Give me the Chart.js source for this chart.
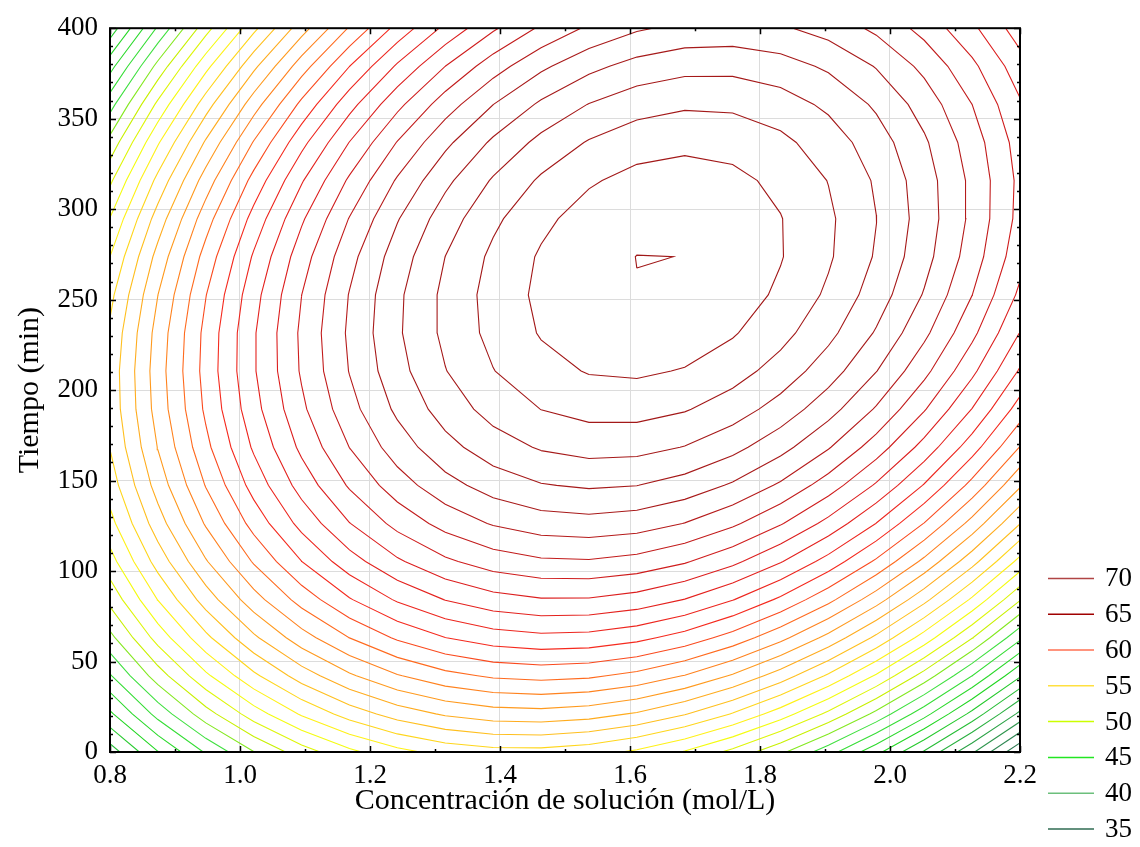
<!DOCTYPE html>
<html>
<head>
<meta charset="utf-8">
<script src="https://cdn.jsdelivr.net/npm/chart.js@4.4.1/dist/chart.umd.min.js"></script>
<style>
  html, body { margin: 0; padding: 0; background: #fff; }
  #wrap { width: 1140px; height: 847px; }
</style>
</head>
<body>
<div id="wrap"><canvas id="contour"></canvas></div>
<script>
// fitted response surface: y = b0 + b1*C + b2*t + b11*C^2 + b22*t^2 + b12*C*t
const coefs = [-5.89874, 80.470, 0.081817, -28.1, -0.0002862, 0.04365];

const concRange = [0.8, 2.2];   // mol/L
const timeRange = [0, 400];     // min
const gridPoints = 20;

const contourLevels = [35, 36, 37, 38, 39, 40, 41, 42, 43, 44, 45, 46, 47, 48, 49, 50, 51, 52, 53,
    54, 55, 56, 57, 58, 59, 60, 61, 62, 63, 64, 65, 66, 67, 68, 69, 70, 71];
const legendLevels = [70, 65, 60, 55, 50, 45, 40, 35];
const legendColors = ['#b04444', '#a00000', '#ff7052', '#ffe040', '#ccff00', '#22e622', '#6cbf7c', '#2f6b52'];

// palette used along the contour lines (level -> colour)
const paletteLevels = [71, 66, 62, 59, 57, 55, 52.5, 50.5, 48, 46, 43, 40, 37, 35];
const paletteColors = ['#a01818', '#a81a1a', '#dc1e1e', '#f52a1e', '#ff6a1e', '#ff9a1e', '#ffc81e',
    '#ffff14', '#c8f000', '#40e040', '#22d622', '#2ab040', '#2e8652', '#2c6b4e'];

const xTicks = [0.8, 1.0, 1.2, 1.4, 1.6, 1.8, 2.0, 2.2];
const yTicks = [0, 50, 100, 150, 200, 250, 300, 350, 400];

const serif = "'Liberation Serif', 'Times New Roman', serif";

function surface(c, t) {
    const [b0, b1, b2, b11, b22, b12] = coefs;
    return b0 + b1 * c + b2 * t + b11 * c * c + b22 * t * t + b12 * c * t;
}

function hexToRgb(h) {
    const n = parseInt(h.slice(1), 16);
    return [(n >> 16) & 255, (n >> 8) & 255, n & 255];
}

function levelColor(level) {
    if (level >= paletteLevels[0]) return paletteColors[0];
    const last = paletteLevels.length - 1;
    if (level <= paletteLevels[last]) return paletteColors[last];
    for (let k = 0; k < last; k++) {
        const hi = paletteLevels[k], lo = paletteLevels[k + 1];
        if (level <= hi && level >= lo) {
            const f = (hi - level) / (hi - lo);
            const a = hexToRgb(paletteColors[k]), b = hexToRgb(paletteColors[k + 1]);
            const mix = a.map((v, i) => Math.round(v + f * (b[i] - v)));
            return `rgb(${mix[0]}, ${mix[1]}, ${mix[2]})`;
        }
    }
}

// sample the surface on a regular grid
const cs = [], ts = [];
for (let i = 0; i < gridPoints; i++) cs.push(concRange[0] + (concRange[1] - concRange[0]) * i / (gridPoints - 1));
for (let j = 0; j < gridPoints; j++) ts.push(timeRange[0] + (timeRange[1] - timeRange[0]) * j / (gridPoints - 1));
const z = ts.map(t => cs.map(c => surface(c, t)));

// marching squares, segments chained into polylines
function traceLevel(level) {
    const pts = new Map();
    const links = new Map();
    const edgePoint = (key, c0, t0, v0, c1, t1, v1) => {
        if (!pts.has(key)) {
            const f = (level - v0) / (v1 - v0);
            pts.set(key, {x: c0 + f * (c1 - c0), y: t0 + f * (t1 - t0)});
        }
        return key;
    };
    const link = (a, b) => {
        if (!links.has(a)) links.set(a, []);
        if (!links.has(b)) links.set(b, []);
        links.get(a).push(b);
        links.get(b).push(a);
    };
    for (let j = 0; j < gridPoints - 1; j++) {
        for (let i = 0; i < gridPoints - 1; i++) {
            const v00 = z[j][i], v10 = z[j][i + 1], v01 = z[j + 1][i], v11 = z[j + 1][i + 1];
            const hits = [];
            if ((v00 >= level) !== (v10 >= level)) hits.push(edgePoint(`h${i},${j}`, cs[i], ts[j], v00, cs[i + 1], ts[j], v10));
            if ((v10 >= level) !== (v11 >= level)) hits.push(edgePoint(`v${i + 1},${j}`, cs[i + 1], ts[j], v10, cs[i + 1], ts[j + 1], v11));
            if ((v01 >= level) !== (v11 >= level)) hits.push(edgePoint(`h${i},${j + 1}`, cs[i], ts[j + 1], v01, cs[i + 1], ts[j + 1], v11));
            if ((v00 >= level) !== (v01 >= level)) hits.push(edgePoint(`v${i},${j}`, cs[i], ts[j], v00, cs[i], ts[j + 1], v01));
            if (hits.length === 2) link(hits[0], hits[1]);
            else if (hits.length === 4) { link(hits[0], hits[1]); link(hits[2], hits[3]); }
        }
    }
    const used = new Set();
    const walk = start => {
        const line = [pts.get(start)];
        used.add(start);
        let cur = start;
        while (true) {
            const next = links.get(cur).find(k => !used.has(k));
            if (next === undefined) break;
            used.add(next);
            line.push(pts.get(next));
            cur = next;
        }
        return line;
    };
    const lines = [];
    for (const [k, nb] of links) {
        if (nb.length === 1 && !used.has(k)) lines.push(walk(k));
    }
    for (const k of links.keys()) {
        if (!used.has(k)) {
            const line = walk(k);
            line.push(line[0]);
            lines.push(line);
        }
    }
    return lines;
}

const datasets = [];
contourLevels.forEach(level => {
    const color = levelColor(level);
    traceLevel(level).forEach(line => {
        datasets.push({
            label: String(level),
            data: line,
            showLine: true,
            borderColor: color,
            borderWidth: 1.1,
            pointRadius: 0,
            pointHoverRadius: 0,
            fill: false,
            tension: 0
        });
    });
});

// black box with inward ticks on all four sides
const framePlugin = {
    id: 'frame',
    afterDatasetsDraw(chart) {
        const {ctx, chartArea: a, scales: {x, y}} = chart;
        ctx.save();
        ctx.strokeStyle = '#000';
        ctx.lineWidth = 1.5;
        ctx.beginPath();
        for (let k = 0; k <= 14; k++) {
            const v = concRange[0] + k * 0.1;
            const px = Math.round(x.getPixelForValue(v)) + 0.5;
            const len = k % 2 === 0 ? 6 : 3;
            ctx.moveTo(px, a.bottom); ctx.lineTo(px, a.bottom - len);
            ctx.moveTo(px, a.top); ctx.lineTo(px, a.top + len);
        }
        for (let k = 0; k <= 40; k++) {
            const v = k * 10;
            const py = Math.round(y.getPixelForValue(v)) + 0.5;
            const len = k % 5 === 0 ? 6 : 3;
            ctx.moveTo(a.left, py); ctx.lineTo(a.left + len, py);
            ctx.moveTo(a.right, py); ctx.lineTo(a.right - len, py);
        }
        ctx.stroke();
        ctx.lineWidth = 2;
        ctx.strokeRect(a.left, a.top, a.right - a.left, a.bottom - a.top);
        ctx.restore();
    }
};

const legendPlugin = {
    id: 'levelLegend',
    afterDraw(chart) {
        const {ctx, chartArea: a} = chart;
        const step = 35.8;
        const yLast = chart.height - 18;
        ctx.save();
        ctx.font = `27px ${serif}`;
        ctx.textBaseline = 'middle';
        ctx.fillStyle = '#000';
        legendLevels.forEach((lv, k) => {
            const yy = yLast - (legendLevels.length - 1 - k) * step;
            ctx.strokeStyle = legendColors[k];
            ctx.lineWidth = 1.5;
            ctx.beginPath();
            ctx.moveTo(a.right + 28, yy);
            ctx.lineTo(a.right + 74, yy);
            ctx.stroke();
            ctx.fillText(String(lv), a.right + 85, yy + 1);
        });
        ctx.restore();
    }
};

new Chart(document.getElementById('contour'), {
    type: 'scatter',
    data: { datasets },
    options: {
        responsive: true,
        maintainAspectRatio: false,
        animation: false,
        events: [],
        layout: { padding: { top: 18, right: 120, bottom: 0, left: 0 } },
        plugins: {
            legend: { display: false },
            tooltip: { enabled: false }
        },
        scales: {
            x: {
                type: 'linear',
                min: concRange[0],
                max: concRange[1],
                afterBuildTicks: s => { s.ticks = xTicks.map(v => ({value: v})); },
                afterFit: s => { s.height = 95; },
                grid: { color: '#dcdcdc', lineWidth: 1, drawTicks: false },
                border: { display: false },
                ticks: {
                    color: '#000',
                    font: { family: serif, size: 27 },
                    padding: 8,
                    maxRotation: 0,
                    autoSkip: false,
                    callback: v => Number(v).toFixed(1)
                },
                title: {
                    display: true,
                    text: 'Concentración de solución (mol/L)',
                    color: '#000',
                    font: { family: serif, size: 30 },
                    padding: { top: 0, bottom: 28 }
                }
            },
            y: {
                type: 'linear',
                min: timeRange[0],
                max: timeRange[1],
                afterBuildTicks: s => { s.ticks = yTicks.map(v => ({value: v})); },
                afterFit: s => { s.width = 110; },
                grid: { color: '#dcdcdc', lineWidth: 1, drawTicks: false },
                border: { display: false },
                ticks: {
                    color: '#000',
                    font: { family: serif, size: 27 },
                    padding: 12,
                    autoSkip: false
                },
                title: {
                    display: true,
                    text: 'Tiempo (min)',
                    color: '#000',
                    font: { family: serif, size: 30 },
                    padding: { top: 12, bottom: 0 }
                }
            }
        }
    },
    plugins: [framePlugin, legendPlugin]
});
</script>
</body>
</html>
